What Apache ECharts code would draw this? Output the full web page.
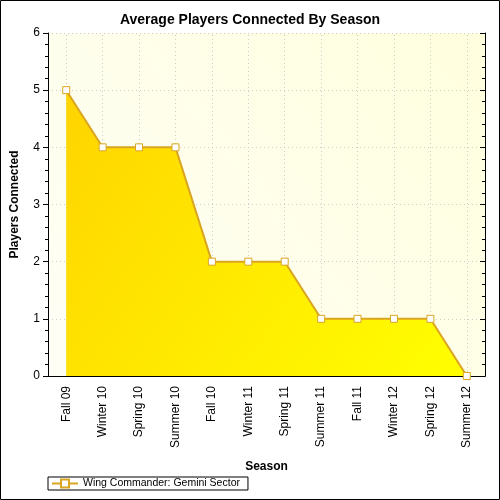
<!DOCTYPE html>
<html><head><meta charset="utf-8">
<script src="https://cdn.jsdelivr.net/npm/echarts@6/dist/echarts.min.js"></script>
<style>html,body{margin:0;padding:0;background:#fff}#c{width:500px;height:500px}</style>
</head><body><div id="c"></div>
<script>
const chartTitle = 'Average Players Connected By Season';
const seasons = ['Fall 09','Winter 10','Spring 10','Summer 10','Fall 10','Winter 11','Spring 11','Summer 11','Fall 11','Winter 12','Spring 12','Summer 12'];
const playersConnected = [5,4,4,4,2,2,2,1,1,1,1,0];
const seriesName = 'Wing Commander: Gemini Sector';
const yAxisName = 'Players Connected';
const xAxisName = 'Season';

const chart = echarts.init(document.getElementById('c'), null, {renderer:'canvas'});
const font = 'Liberation Sans, Arial, sans-serif';
const gold = '#DAA520';
chart.setOption({
  animation:false,
  textStyle:{fontFamily:font},
  title:{text:chartTitle,left:'center',top:8,textStyle:{fontSize:14,fontWeight:'bold',color:'#000',fontFamily:font}},
  graphic:[{type:'rect',shape:{x:0.5,y:0.5,width:499,height:499},style:{fill:'none',stroke:'#000',lineWidth:1},silent:true}],
  legend:{left:48,top:477,orient:'horizontal',borderColor:'#000',borderWidth:1,padding:[1,8,1,3],itemWidth:26,itemHeight:10,itemGap:4,
    textStyle:{fontSize:10.5,color:'#000',fontFamily:font}},
  grid:{left:48,right:15,top:33,bottom:124,show:true,borderWidth:0,
    backgroundColor:new echarts.graphic.LinearGradient(1,0,0,1,[{offset:0,color:'#FFFFDE'},{offset:1,color:'#FEFEF6'}])},
  xAxis:[{type:'category',data:seasons,boundaryGap:true,position:'bottom',
    name:xAxisName,nameLocation:'middle',nameGap:85,nameTextStyle:{fontSize:12,fontWeight:'bold',color:'#000',fontFamily:font},
    axisLine:{lineStyle:{color:'#000',width:1}},
    axisTick:{alignWithLabel:true,length:5,lineStyle:{color:'#000'}},
    axisLabel:{rotate:90,fontSize:12,color:'#000',margin:10,fontFamily:font,interval:0},
    splitLine:{show:false}},
   {type:'category',data:seasons,boundaryGap:true,position:'top',
    axisLine:{lineStyle:{color:'#000',width:1}},
    axisTick:{alignWithLabel:true,inside:true,length:5,lineStyle:{color:'#000'}},
    axisLabel:{show:false},splitLine:{show:false}}],
  yAxis:[{type:'value',min:0,max:6,interval:1,
    name:yAxisName,nameLocation:'middle',nameGap:27,nameTextStyle:{fontSize:12,fontWeight:'bold',color:'#000',fontFamily:font},
    axisLine:{show:true,lineStyle:{color:'#000',width:1}},
    axisTick:{show:true,length:5,lineStyle:{color:'#000'}},
    minorTick:{show:true,splitNumber:5,length:3,lineStyle:{color:'#000'}},
    axisLabel:{fontSize:12,color:'#000',margin:8,fontFamily:font},
    splitLine:{show:true,lineStyle:{color:'#CCCCCC',type:[1,3]}}},
   {type:'value',min:0,max:6,interval:1,position:'right',
    axisLine:{show:true,lineStyle:{color:'#000',width:1}},
    axisTick:{show:true,inside:true,length:5,lineStyle:{color:'#000'}},
    minorTick:{show:true,splitNumber:5,length:3,lineStyle:{color:'#000'}},
    axisLabel:{show:false},splitLine:{show:false}}],
  series:[{type:'line',name:seriesName,data:playersConnected,xAxisIndex:0,yAxisIndex:0,z:3,
    symbol:'rect',symbolSize:7,showAllSymbol:true,
    itemStyle:{color:'#fff',borderColor:gold,borderWidth:1},
    lineStyle:{color:gold,width:2},
    areaStyle:{opacity:1,color:new echarts.graphic.LinearGradient(0,0,1,1,[{offset:0,color:'#FFD400'},{offset:1,color:'#FFFF00'}])},
    markLine:{silent:true,z:1,symbol:'none',label:{show:false},animation:false,
      lineStyle:{color:'#CCCCCC',type:[1,3],width:1},
      emphasis:{disabled:true},
      data:seasons.map(s=>({xAxis:s}))}}]
});
</script></body></html>
